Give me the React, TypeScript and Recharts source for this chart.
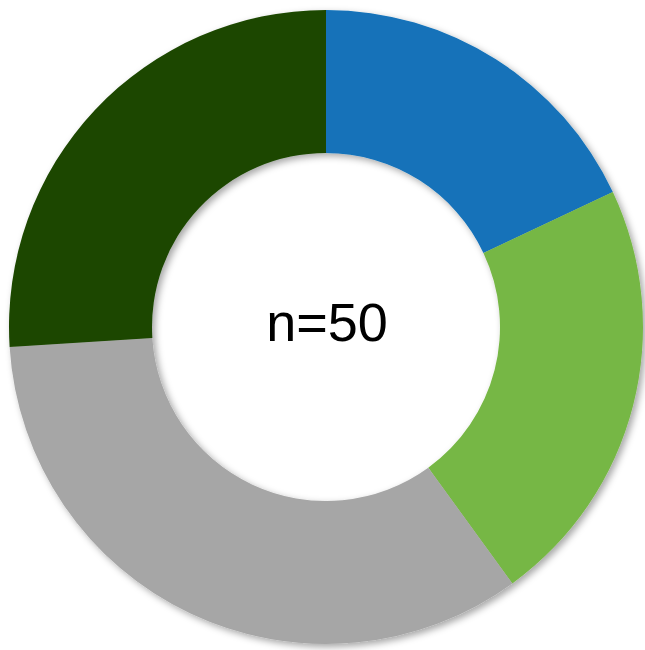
import { PieChart, Pie, Cell } from "recharts";

const categories = ["A", "B", "C", "D"];
const counts = [9, 11, 17, 13];
const colors = ["#1372B9", "#76B744", "#A6A6A6", "#1C4700"];
const centerLabel = "n=50";

const data = categories.map((name, i) => ({ name, value: counts[i] }));

const App = () => {
  return (
    <div style={{ position: "absolute", left: 0, top: 0 }}>
      <svg width={0} height={0} style={{ position: "absolute" }}>
        <defs>
          <filter id="ds" x="-10%" y="-10%" width="120%" height="120%">
            <feDropShadow dx="3" dy="3" stdDeviation="3.5" floodColor="#000" floodOpacity="0.35" />
          </filter>
        </defs>
      </svg>
      <style>{`.donut .recharts-pie { filter: url(#ds); }`}</style>
      <PieChart
        width={645}
        height={650}
        className="donut"
        margin={{ top: 0, right: 0, bottom: 0, left: 0 }}
      >
        <Pie
          data={data}
          dataKey="value"
          cx={326}
          cy={327}
          innerRadius={174}
          outerRadius={317}
          startAngle={90}
          endAngle={-270}
          stroke="none"
          isAnimationActive={false}
        >
          {data.map((d, i) => (
            <Cell key={d.name} fill={colors[i]} />
          ))}
        </Pie>
        <text
          x={327}
          y={322}
          textAnchor="middle"
          dominantBaseline="central"
          fontFamily="Liberation Sans, Arial, sans-serif"
          fontSize={54}
          fill="#000"
        >
          {centerLabel}
        </text>
      </PieChart>
    </div>
  );
};

export default App;
